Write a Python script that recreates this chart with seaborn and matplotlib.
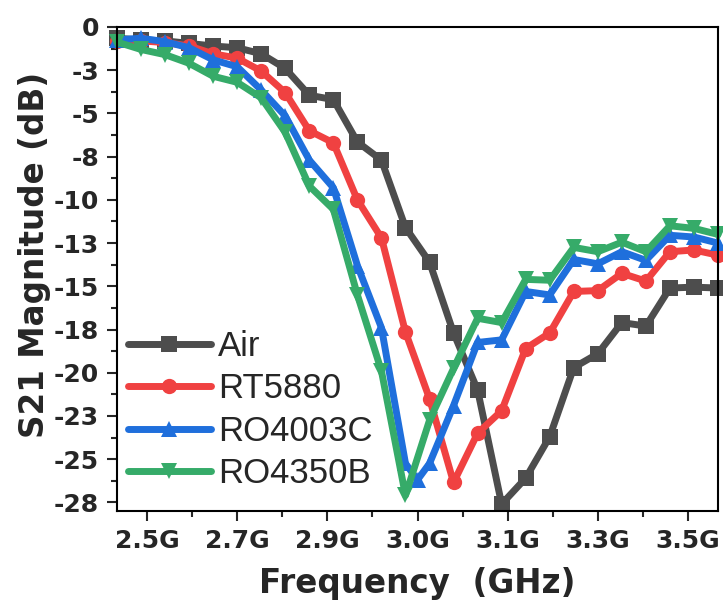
import matplotlib
matplotlib.use("Agg")
import matplotlib.pyplot as plt
import seaborn as sns
import pandas as pd
from matplotlib.ticker import FixedLocator

# ---- data ----
freq = [2.450, 2.494, 2.538, 2.582, 2.626, 2.670, 2.714, 2.758, 2.802, 2.846,
        2.890, 2.934, 2.978, 3.022, 3.066, 3.110, 3.154, 3.198, 3.242, 3.286,
        3.330, 3.374, 3.418, 3.462, 3.506, 3.550]
freq_ro4003c = [2.450, 2.494, 2.538, 2.582, 2.626, 2.670, 2.714, 2.758, 2.802, 2.846,
                2.890, 2.934, 2.978, 3.000, 3.022, 3.066, 3.110, 3.154, 3.198, 3.242,
                3.286, 3.330, 3.374, 3.418, 3.462, 3.506, 3.550]

air = [-0.65, -0.75, -0.8, -0.95, -1.1, -1.2, -1.55, -2.4, -3.95, -4.2,
       -6.65, -7.7, -11.6, -13.6, -17.7, -21.0, -27.6, -26.1, -23.7, -19.7,
       -18.9, -17.1, -17.3, -15.1, -15.05, -15.1]
rt5880 = [-0.8, -0.8, -0.9, -1.1, -1.55, -1.8, -2.55, -3.8, -6.0, -6.7,
          -10.0, -12.2, -17.65, -21.5, -26.35, -23.5, -22.2, -18.6, -17.7, -15.3,
          -15.25, -14.25, -14.7, -13.0, -12.9, -13.2]
ro4003c = [-0.75, -0.65, -0.85, -1.2, -1.9, -2.3, -3.65, -5.15, -7.7, -9.3,
           -13.8, -17.4, -25.25, -26.2, -25.25, -21.9, -18.25, -18.1, -15.3, -15.5,
           -13.45, -13.7, -13.0, -13.5, -12.05, -12.15, -12.5]
ro4350b = [-0.87, -1.3, -1.6, -2.1, -2.85, -3.2, -4.1, -6.1, -9.2, -10.55,
           -15.5, -19.9, -27.1, -22.75, -19.75, -16.85, -17.1, -14.6, -14.65, -12.75,
           -13.0, -12.45, -13.0, -11.5, -11.65, -12.0]

series_names = ["Air", "RT5880", "RO4003C", "RO4350B"]
xtick_pos = [2.505, 2.67, 2.835, 3.0, 3.165, 3.33, 3.495]
xtick_labels = ["2.5G", "2.7G", "2.9G", "3.0G", "3.1G", "3.3G", "3.5G"]
ytick_pos = [0, -2.5, -5, -7.5, -10, -12.5, -15, -17.5, -20, -22.5, -25, -27.5]
ytick_labels = ["0", "-3", "-5", "-8", "-10", "-13", "-15", "-18", "-20", "-23", "-25", "-28"]

# ---- style ----
sns.set_style("white")
plt.rcParams['font.family'] = ['Liberation Sans', 'DejaVu Sans']

colors = {"Air": "#4d4d4d", "RT5880": "#f04141", "RO4003C": "#1f6fdc", "RO4350B": "#36ab69"}
markers = {"Air": "s", "RT5880": "o", "RO4003C": "^", "RO4350B": "v"}

fig = plt.figure(figsize=(7.23, 6.01), dpi=100)
ax = fig.add_axes([117/723, 1-511/601, (718-117)/723, (511-27)/601])

xs = [freq, freq, freq_ro4003c, freq]
ys = [air, rt5880, ro4003c, ro4350b]
for name, x, y in zip(series_names, xs, ys):
    df = pd.DataFrame({"Frequency": x, "S21": y})
    sns.lineplot(data=df, x="Frequency", y="S21", ax=ax, color=colors[name],
                 marker=markers[name], markersize=11, markeredgewidth=0,
                 linewidth=5, label=name, clip_on=False, sort=False)

ax.set_xlim(2.45, 3.55)
ax.set_ylim(-28, 0)

ax.xaxis.set_major_locator(FixedLocator(xtick_pos))
ax.set_xticklabels(xtick_labels)
ax.xaxis.set_minor_locator(FixedLocator([(a + b) / 2 for a, b in zip(xtick_pos[:-1], xtick_pos[1:])]))
ax.yaxis.set_major_locator(FixedLocator(ytick_pos))
ax.set_yticklabels(ytick_labels)
ax.yaxis.set_minor_locator(FixedLocator([t - 1.25 for t in ytick_pos[:-1]]))

ax.tick_params(axis='both', which='major', direction='out', length=7, width=1.5,
               bottom=True, left=True, top=False, right=False, pad=6)
ax.tick_params(axis='both', which='minor', direction='out', length=4, width=1.5,
               bottom=True, left=True, top=False, right=False)
for lab in ax.get_xticklabels() + ax.get_yticklabels():
    lab.set_fontfamily('DejaVu Sans')
    lab.set_fontweight('bold')
    lab.set_fontsize(18)
for s in ax.spines.values():
    s.set_linewidth(1.5)
    s.set_color('black')

ax.set_xlabel("Frequency  (GHz)", fontsize=23.5, fontweight='bold',
              family='DejaVu Sans', labelpad=10)
ax.set_ylabel("S21 Magnitude (dB)", fontsize=23.5, fontweight='bold',
              family='DejaVu Sans', labelpad=5)
ax.yaxis.set_label_coords(-0.11, 0.53)

leg = ax.legend(loc='lower left', bbox_to_anchor=(-0.017, 0.0), frameon=False,
                prop={'family': 'Liberation Sans', 'size': 25},
                handlelength=2.4, handletextpad=0.2,
                labelspacing=0.27, borderaxespad=0.2)
for h in leg.legend_handles:
    h.set_linewidth(5)
    h.set_markersize(11)

fig.savefig("out.png", dpi=100)
